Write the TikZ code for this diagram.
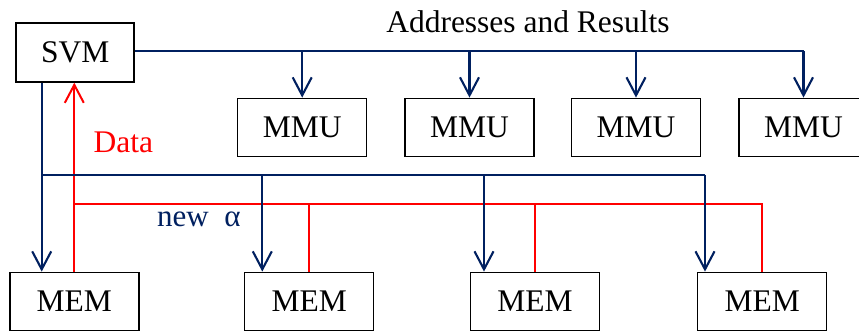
\documentclass[tikz,border=0pt]{standalone}
\usepackage{fontspec}
\setmainfont{Liberation Serif}
\usetikzlibrary{arrows.meta}
\definecolor{busblue}{RGB}{0,32,96}
\definecolor{datared}{RGB}{255,0,0}
\begin{document}
\begin{tikzpicture}[x=1pt,y=-1pt,
  unit/.style={draw=black, line width=1.4pt, inner sep=0pt, minimum width=129pt,
    minimum height=58.4pt, font=\fontsize{31.5}{36}\selectfont},
  ctrl/.style={unit, line width=2pt, minimum width=118.3pt},
  addr/.style={draw=busblue, line width=2.1pt},
  addrarrow/.style={addr, -{Straight Barb[length=18pt,width=19pt]}},
  data/.style={draw=datared, line width=2pt},
  dataarrow/.style={data, -{Straight Barb[length=18pt,width=19pt]}},
  lbl/.style={anchor=base, font=\fontsize{31.5}{36}\selectfont}]
\useasboundingbox (0,0) rectangle (859,331);
\clip (0,0) rectangle (859,331);
\fill[white] (0,0) rectangle (859,331);

% controller, address units and memories
\node[ctrl] (svm) at (75.2,52.5) {SVM};
\node[unit] (mmu1) at (302.2,127.5) {MMU};
\node[unit] (mmu2) at (469.5,127.5) {MMU};
\node[unit] (mmu3) at (636,127.5) {MMU};
\node[unit] (mmu4) at (803.5,127.5) {MMU};
\node[unit] (mem1) at (74.3,301.5) {MEM};
\node[unit] (mem2) at (309.2,301.5) {MEM};
\node[unit] (mem3) at (535,301.5) {MEM};
\node[unit] (mem4) at (762.2,301.5) {MEM};

% bus heights and taps
\coordinate (abus) at (0,51);
\coordinate (dbus) at (0,204);
\coordinate (tA) at (41.7,175);
\coordinate (tB) at (262.3,175);
\coordinate (tC) at (484,175);
\coordinate (tD) at (705,175);

% data returned from the memories
\draw[data] (mem1.north |- dbus) -- (mem4.north |- dbus) -- (mem4.north);
\draw[data] (mem2.north |- dbus) -- (mem2.north);
\draw[data] (mem3.north |- dbus) -- (mem3.north);
\draw[dataarrow] (mem1.north) -- (svm.south -| mem1.north);

% addresses and results to the MMUs
\draw[addr] (svm.east |- abus) -- (mmu4.north |- abus);
\foreach \m in {mmu1,mmu2,mmu3,mmu4}
  \draw[addrarrow] (\m.north |- abus) -- (\m.north);

% new alpha to the memories
\draw[addrarrow] (svm.south -| tA) -- (mem1.north -| tA);
\draw[addr] (tA) -- (tD);
\draw[addrarrow] (tB) -- (mem2.north -| tB);
\draw[addrarrow] (tC) -- (mem3.north -| tC);
\draw[addrarrow] (tD) -- (mem4.north -| tD);

% labels
\node[lbl] (addrlbl) at (528,32.3) {Addresses and Results};
\node[lbl, text=datared] (datalbl) at (123.3,152.3) {Data};
\node[lbl, text=busblue, font=\fontsize{31}{36}\selectfont] (alphalbl) at (198.8,226.7) {new\ \ α};
\end{tikzpicture}
\end{document}
